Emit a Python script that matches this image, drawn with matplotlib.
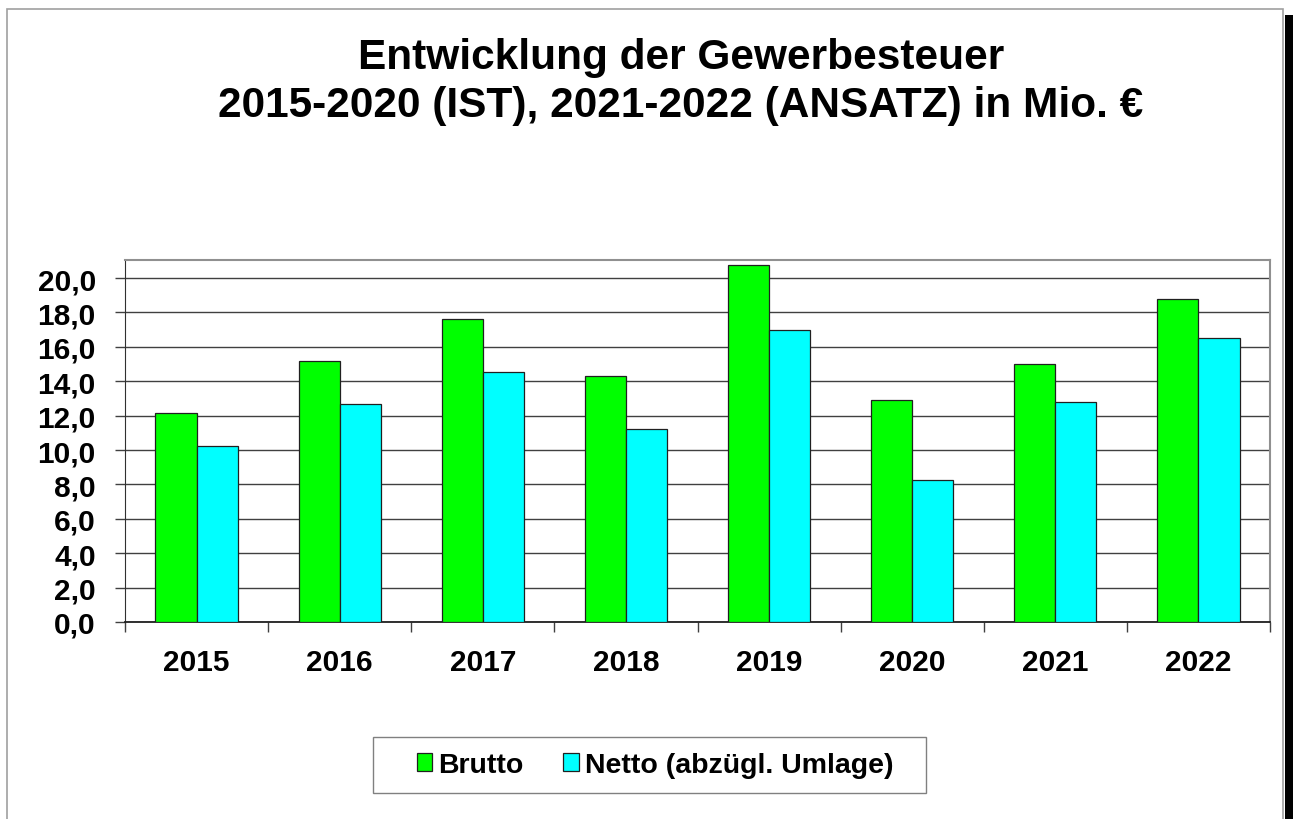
import matplotlib.pyplot as plt
import matplotlib.patches as mpatches
import numpy as np

years = ["2015", "2016", "2017", "2018", "2019", "2020", "2021", "2022"]
brutto = [12.15, 15.17, 17.6, 14.3, 20.75, 12.92, 15.0, 18.78]
netto = [10.23, 12.67, 14.53, 11.22, 16.98, 8.27, 12.8, 16.51]
y_ticks = [0, 2, 4, 6, 8, 10, 12, 14, 16, 18, 20]

plt.rcParams['font.family'] = ['Liberation Sans', 'DejaVu Sans']

fig = plt.figure(figsize=(12.93, 8.20), dpi=100)
W, H = 1293, 820

# outer frame and right shadow bar
fig.patches.append(mpatches.Rectangle((7 / W, -0.01), 1276 / W, 1 - 10 / H + 0.01,
                                      transform=fig.transFigure, fill=False,
                                      edgecolor='#a0a0a0', linewidth=1.2))
fig.patches.append(mpatches.Rectangle((1285 / W, 0), 8 / W, 1 - 16 / H,
                                      transform=fig.transFigure, facecolor='black',
                                      edgecolor='none'))

ax = fig.add_axes([125 / W, 1 - 623 / H, 1145 / W, 362 / H])

x = np.arange(len(years))
w = 0.287
ax.bar(x - w / 2, brutto, w, color='#00ff00', edgecolor='#202020', linewidth=0.9,
       label='Brutto', zorder=3)
ax.bar(x + w / 2, netto, w, color='#00ffff', edgecolor='#202020', linewidth=0.9,
       label='Netto (abzügl. Umlage)', zorder=3)

ax.set_xlim(-0.5, len(years) - 0.5)
ax.set_ylim(0, 21.05)
ax.set_yticks(y_ticks)
ax.set_yticklabels([f"{v:.1f}".replace('.', ',') for v in y_ticks],
                   fontsize=21.5, fontweight='bold')
ax.yaxis.grid(True, color='#404040', linewidth=1, zorder=0)
ax.tick_params(axis='y', length=7, width=1, pad=14, color='#404040')

ax.set_xticks(np.arange(len(years) + 1) - 0.5)
ax.set_xticklabels([])
ax.set_xticks(x, minor=True)
ax.set_xticklabels(years, minor=True, fontsize=21.5, fontweight='bold')
ax.tick_params(axis='x', which='major', length=7, width=1, color='#404040')
ax.tick_params(axis='x', which='minor', length=0, pad=19)

ax.spines['left'].set_color('#303030')
ax.spines['bottom'].set_color('#202020')
ax.spines['bottom'].set_linewidth(1.3)
ax.spines['top'].set_color('#909090')
ax.spines['right'].set_color('#909090')
ax.spines['top'].set_linewidth(1.5)
ax.spines['right'].set_linewidth(1.5)

fig.text(681 / W, 1 - 82 / H,
         "Entwicklung der Gewerbesteuer\n2015-2020 (IST), 2021-2022 (ANSATZ) in Mio. €",
         ha='center', va='center', fontsize=30.5, fontweight='bold', linespacing=1.26)

# legend box drawn separately, legend itself without frame
fig.patches.append(mpatches.Rectangle((373 / W, 1 - 794 / H), 553 / W, 56 / H,
                                      transform=fig.transFigure, facecolor='white',
                                      edgecolor='#808080', linewidth=1))
leg = fig.legend(loc='center', bbox_to_anchor=(655 / W, 1 - 766 / H), ncol=2,
                 frameon=False, prop={'size': 20.5, 'weight': 'bold'},
                 handlelength=0.55, handleheight=0.55, handletextpad=0.2,
                 columnspacing=1.4, borderpad=0.2)

fig.savefig('out.png', dpi=100)
